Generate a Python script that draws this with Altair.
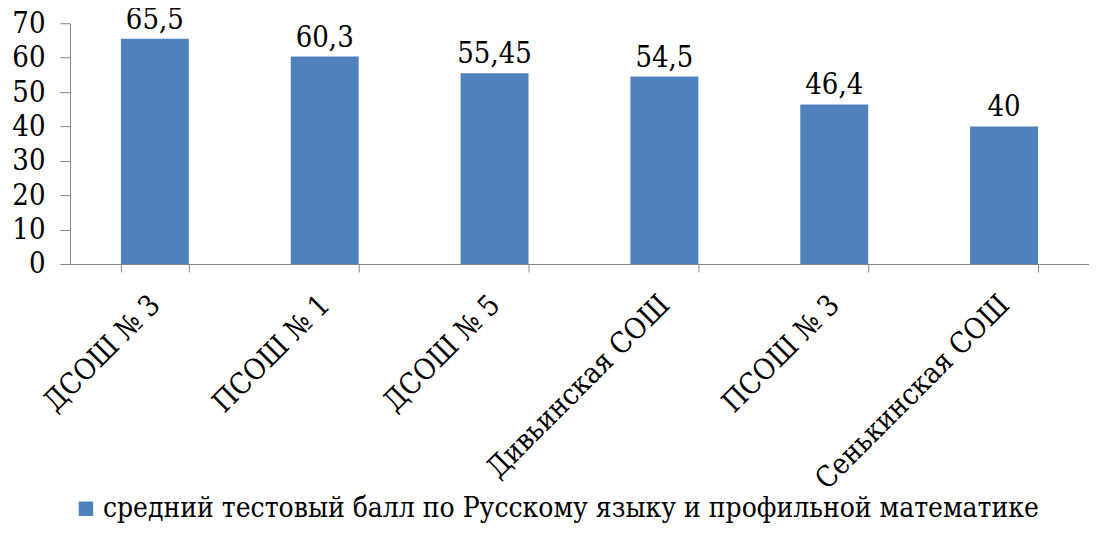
import altair as alt
import pandas as pd

schools = ["ДСОШ № 3", "ПСОШ № 1", "ДСОШ № 5", "Дивьинская СОШ", "ПСОШ № 3", "Сенькинская СОШ"]
scores = [65.5, 60.3, 55.45, 54.5, 46.4, 40]
series_name = "средний тестовый балл по Русскому языку и профильной математике"

df = pd.DataFrame({
    "school": schools,
    "score": scores,
    "label": [("%g" % v).replace(".", ",") for v in scores],
    "series": [series_name] * len(schools),
})

FONT = "DejaVu Serif Condensed"
FS = 29

x = alt.X("school:N", sort=schools, title=None,
          scale=alt.Scale(paddingInner=0.6, paddingOuter=0.3),
          axis=alt.Axis(labelAngle=-45, labelAlign="right", labelBaseline="middle",
                        labelPadding=28, tickBand="extent", tickSize=8,
                        domainColor="#868686", tickColor="#868686",
                        labelFont=FONT, labelFontSize=FS, labelColor="black",
                        labelLimit=400, labelOverlap=False))
y = alt.Y("score:Q", title=None,
          scale=alt.Scale(domain=[0, 70], nice=False),
          axis=alt.Axis(values=[0, 10, 20, 30, 40, 50, 60, 70], grid=False,
                        tickSize=10, labelPadding=15, labelOverlap=False, labelFlush=False,
                        domainColor="#868686", tickColor="#868686",
                        labelFont=FONT, labelFontSize=FS, labelColor="black"))

base = alt.Chart(df).encode(x=x, y=y)

bars = base.mark_bar(color="#4F81BD").encode(
    color=alt.Color("series:N",
                    scale=alt.Scale(domain=[series_name], range=["#4F81BD"]),
                    legend=alt.Legend(title=None, orient="none", legendX=2, legendY=472,
                                      symbolType="square", symbolSize=210,
                                      symbolStrokeWidth=0,
                                      labelFont=FONT, labelFontSize=28, labelColor="black",
                                      labelLimit=1100, symbolOffset=0, labelOffset=3)),
)

text = base.mark_text(baseline="bottom", dy=-4, font=FONT, fontSize=FS, color="black").encode(
    text="label:N",
)

chart = (bars + text).properties(
    width=1020, height=241,
    autosize=alt.AutoSizeParams(type="none"),
    padding={"left": 62, "top": 15, "right": 0, "bottom": 259},
).configure_view(stroke=None)

chart.save("out.html", embed_options={"renderer": "svg", "actions": False})
